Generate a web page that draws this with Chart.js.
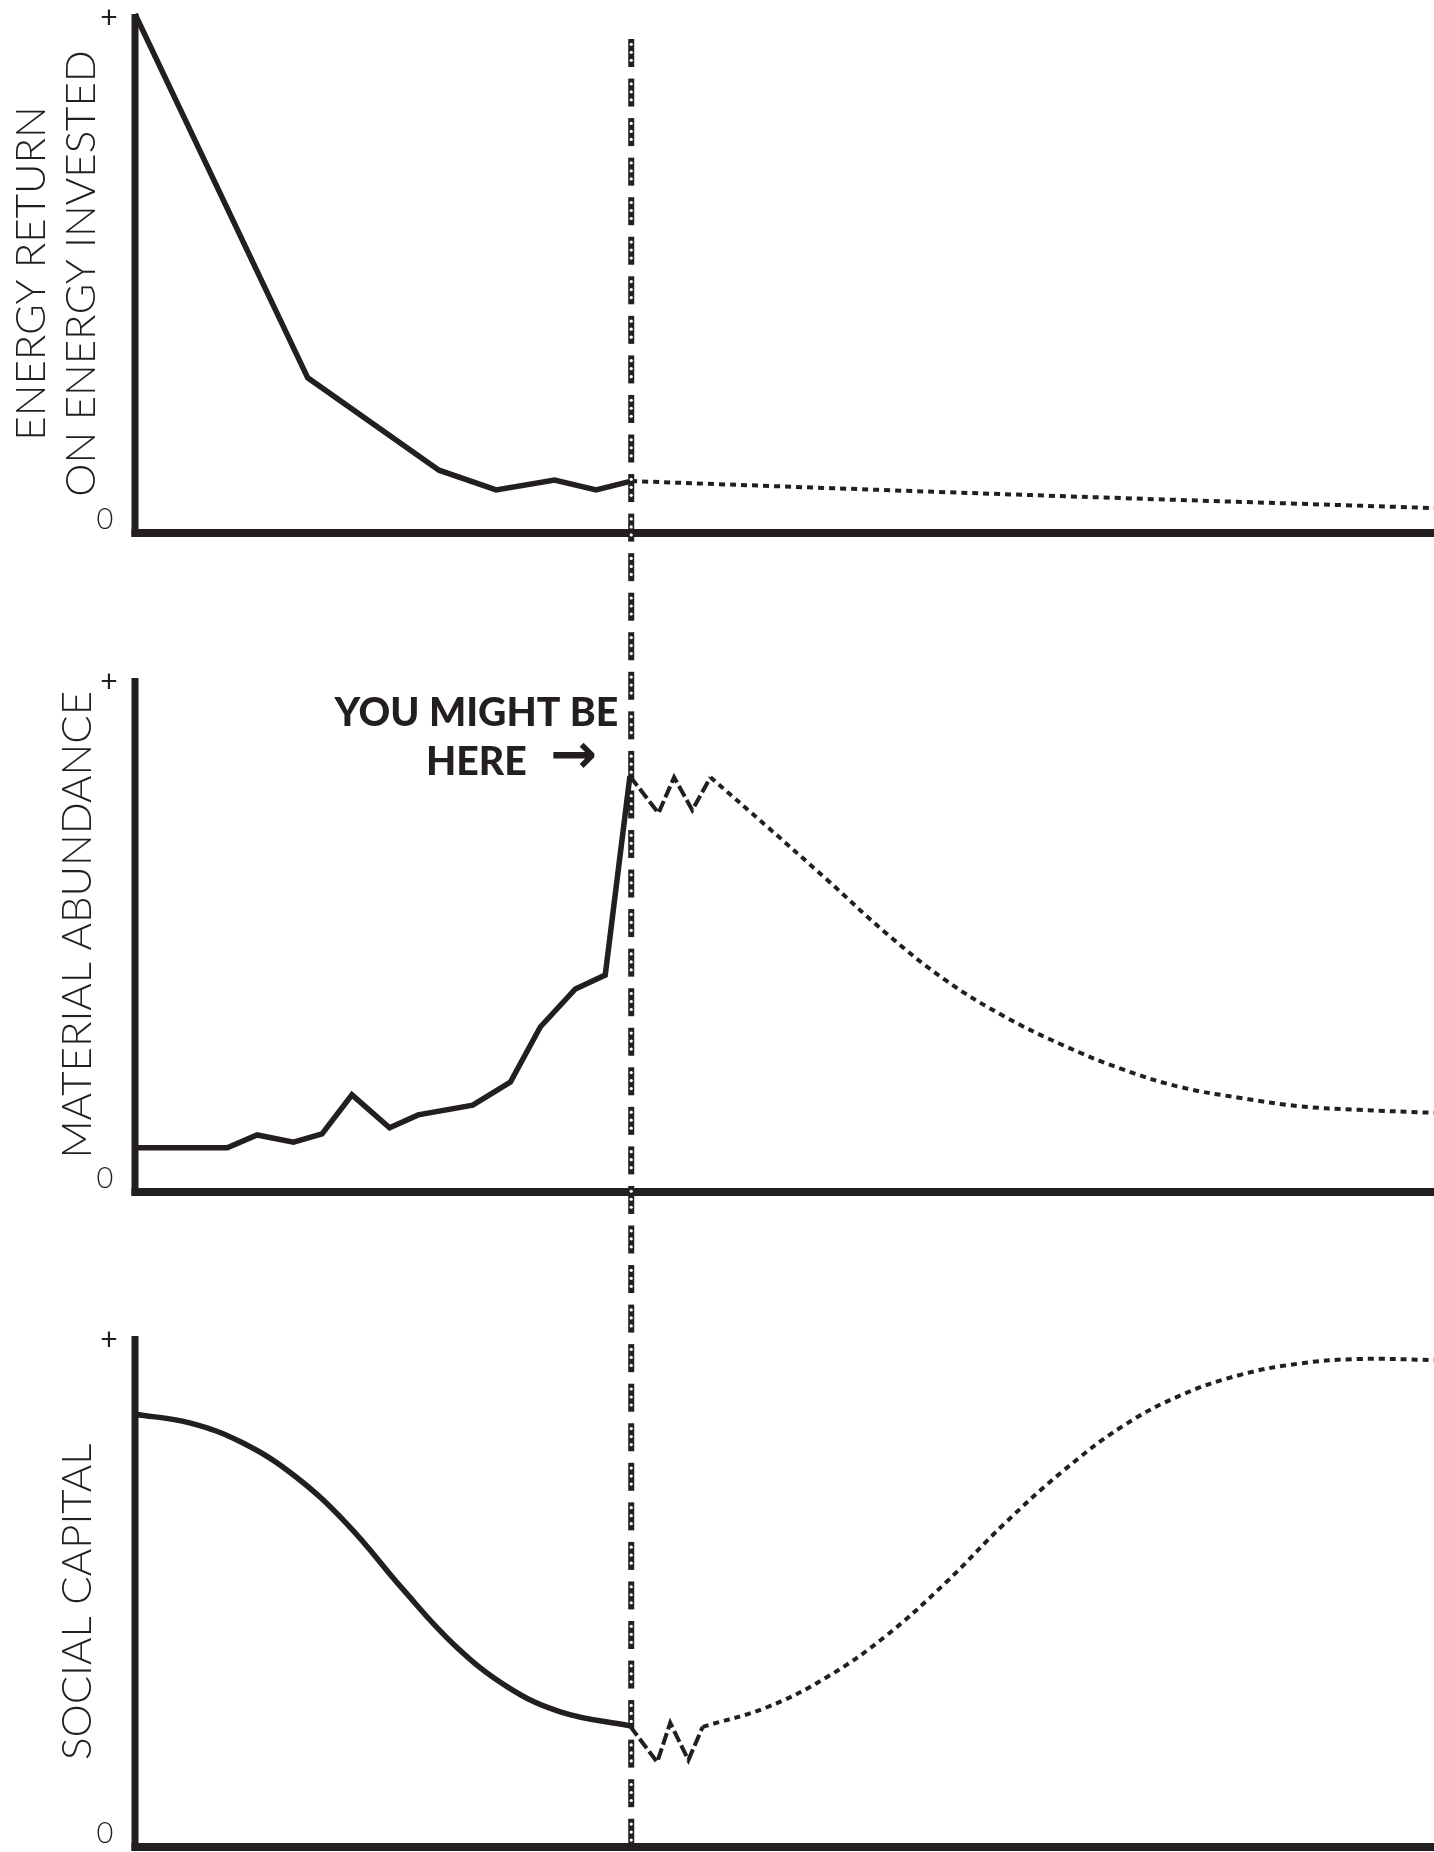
<!DOCTYPE html>
<html><head><meta charset="utf-8">
<script src="https://cdn.jsdelivr.net/npm/chart.js@4/dist/chart.umd.min.js"></script>
<style>html,body{margin:0;padding:0;background:#fff;}canvas{display:block;}</style>
</head><body>
<canvas id="c" width="1434" height="1852"></canvas>
<script>
// ---------- DATA (x: time, 0..100 ; y: relative level, 0..100 = "0".."+") ----------
const nowX = 38.2;

const eroeiX     = [0, 13.3, 23.4, 27.8, 32.3, 35.5, 38.2];
const eroeiY     = [100, 29.9, 12.1, 8.3, 10.2, 8.3, 10.0];
const eroeiProjX = [38.2, 69, 100];
const eroeiProjY = [10.0, 7.3, 4.8];

const matX     = [0, 2.5, 7.1, 9.4, 12.2, 14.4, 16.7, 19.6, 21.8, 26.0, 28.9, 31.2, 33.9, 36.2, 38.1];
const matY     = [8.6, 8.6, 8.6, 11.1, 9.7, 11.3, 18.9, 12.5, 15.0, 16.9, 21.4, 32.1, 39.5, 42.2, 80.9];
const matZigX  = [38.1, 40.3, 41.5, 42.9, 44.3];
const matZigY  = [80.9, 73.7, 80.7, 74.3, 80.7];
const matProjX = [44.3, 48.7, 53.3, 57.8, 62.4, 66.9, 71.4, 76.0, 80.5, 85.1, 89.6, 94.2, 100];
const matProjY = [80.7, 71.0, 60.7, 50.4, 41.2, 34.2, 28.6, 23.9, 20.4, 18.3, 16.7, 16.0, 15.4];

const socX     = [0, 4.2, 8.2, 12.3, 16.4, 20.6, 24.6, 28.7, 32.8, 38.1];
const socY     = [84.7, 83.0, 79.2, 72.6, 63.0, 50.5, 39.5, 31.3, 26.4, 23.7];
const socZigX  = [38.1, 40.2, 41.2, 42.6, 43.7];
const socZigY  = [23.7, 16.6, 24.3, 17.0, 23.5];
const socProjX = [43.7, 48.7, 53.3, 57.8, 62.4, 66.9, 71.4, 76.0, 80.5, 85.1, 89.6, 94.2, 100];
const socProjY = [23.5, 27.4, 33.3, 41.3, 51.7, 63.2, 73.5, 82.3, 88.4, 92.4, 94.6, 95.5, 95.3];

const panelTitles = [['ENERGY RETURN', 'ON ENERGY INVESTED'], ['MATERIAL ABUNDANCE'], ['SOCIAL CAPITAL']];
const tickLabels = {low: '0', high: '+'};
const noteLines = ['YOU MIGHT BE', 'HERE'];
const noteArrow = '\u2192';

// ---------- LAYOUT ----------
const INK = '#231f20';
const W = 1434, H = 1852;
const AXIS_LEFT_PX = 135;
const panelPx = [{zero: 533, top: 14}, {zero: 1192, top: 678}, {zero: 1847, top: 1336}];
function yRange(p) {
  const u = (p.zero - p.top) / 100;
  return {min: -(H - p.zero) / u, max: 100 + p.top / u};
}
const xMin = -AXIS_LEFT_PX / ((W - AXIS_LEFT_PX) / 100);

const pts = (xs, ys) => xs.map((x, i) => ({x, y: ys[i]}));
const base = {pointRadius: 0, borderColor: INK, fill: false, borderJoinStyle: 'miter', borderCapStyle: 'butt'};
const solid  = Object.assign({}, base, {borderWidth: 5.5});
const zig    = Object.assign({}, base, {borderWidth: 4, borderDash: [12, 4]});
const dotted = Object.assign({}, base, {borderWidth: 4, borderDash: [6, 5]});

const datasets = [
  Object.assign({data: pts(eroeiX, eroeiY), yAxisID: 'y1', tension: 0}, solid),
  Object.assign({data: pts(eroeiProjX, eroeiProjY), yAxisID: 'y1', tension: 0.3}, dotted),
  Object.assign({data: pts(matX, matY), yAxisID: 'y2', tension: 0}, solid),
  Object.assign({data: pts(matZigX, matZigY), yAxisID: 'y2', tension: 0}, zig),
  Object.assign({data: pts(matProjX, matProjY), yAxisID: 'y2', tension: 0.4}, dotted),
  Object.assign({data: pts(socX, socY), yAxisID: 'y3', tension: 0.4}, solid),
  Object.assign({data: pts(socZigX, socZigY), yAxisID: 'y3', tension: 0}, zig),
  Object.assign({data: pts(socProjX, socProjY), yAxisID: 'y3', tension: 0.4}, dotted),
];

function fitFont(ctx, text, weight, family, target) {
  ctx.font = weight + ' 40px ' + family;
  const w = ctx.measureText(text).width;
  return 40 * target / w;
}

const decor = {
  id: 'decor',
  afterDatasetsDraw(chart) {
    const ctx = chart.ctx, xs = chart.scales.x;
    const ax = xs.getPixelForValue(0);
    const right = chart.chartArea.right;
    ctx.save();
    ctx.fillStyle = INK;
    const titleCenters = [50, 52, 48];
    const titleX = [[31, 81], [77], [77]];
    ['y1', 'y2', 'y3'].forEach((id, i) => {
      const s = chart.scales[id];
      const y0 = s.getPixelForValue(0), yt = s.getPixelForValue(100);
      ctx.fillStyle = INK;
      ctx.fillRect(ax - 3.5, yt, 7, y0 - yt + 4);
      ctx.fillRect(ax - 3.5, y0 - 4, right - ax + 4, 8);
      ctx.textAlign = 'center'; ctx.textBaseline = 'middle';
      ctx.font = '300 29px Lato';
      ctx.fillText(tickLabels.low, ax - 30, y0 - 13);
      ctx.font = '400 30px Lato';
      ctx.fillText(tickLabels.high, ax - 26, yt + 4);
      const yc = s.getPixelForValue(titleCenters[i]);
      panelTitles[i].forEach((t, j) => {
        ctx.save();
        ctx.translate(titleX[i][j], yc);
        ctx.rotate(-Math.PI / 2);
        ctx.font = '300 42px Lato';
        ctx.textAlign = 'center'; ctx.textBaseline = 'middle';
        ctx.fillText(t, 0, 0);
        ctx.restore();
      });
    });
    // note
    const nx = xs.getPixelForValue(nowX);
    const y2 = chart.scales.y2, top2 = y2.getPixelForValue(100);
    const fs = fitFont(ctx, noteLines[0], '900', 'Lato', 284);
    ctx.font = '900 ' + fs.toFixed(1) + 'px Lato';
    ctx.textBaseline = 'alphabetic';
    ctx.textAlign = 'right';
    ctx.fillText(noteLines[0], nx - 13, top2 + 48);
    const w1 = ctx.measureText(noteLines[0]).width;
    ctx.textAlign = 'center';
    ctx.fillText(noteLines[1], nx - 13 - w1 / 2, top2 + 97);
    ctx.font = 'bold 56px "DejaVu Sans"';
    ctx.textAlign = 'right';
    ctx.textBaseline = 'middle';
    ctx.fillText(noteArrow, nx - 34, top2 + 80);
    // "now" marker
    const period = 39.55, dash = 28;
    for (let y = chart.chartArea.top + 39; y < chart.chartArea.bottom; y += period) {
      ctx.fillStyle = INK;
      ctx.fillRect(nx - 3, y, 6, dash);
      ctx.fillStyle = '#fff';
      [5.3, 13.3, 21.3].forEach(o => { ctx.beginPath(); ctx.arc(nx, y + o, 1.6, 0, Math.PI * 2); ctx.fill(); });
    }
    ctx.restore();
  }
};

new Chart(document.getElementById('c'), {
  type: 'line',
  data: {datasets},
  options: {
    responsive: false, animation: false, devicePixelRatio: 1,
    layout: {padding: 0},
    plugins: {legend: {display: false}, tooltip: {enabled: false}},
    scales: {
      x: {type: 'linear', display: false, min: xMin, max: 100},
      y1: Object.assign({type: 'linear', display: false}, yRange(panelPx[0])),
      y2: Object.assign({type: 'linear', display: false}, yRange(panelPx[1])),
      y3: Object.assign({type: 'linear', display: false}, yRange(panelPx[2])),
    }
  },
  plugins: [decor]
});
</script></body></html>
